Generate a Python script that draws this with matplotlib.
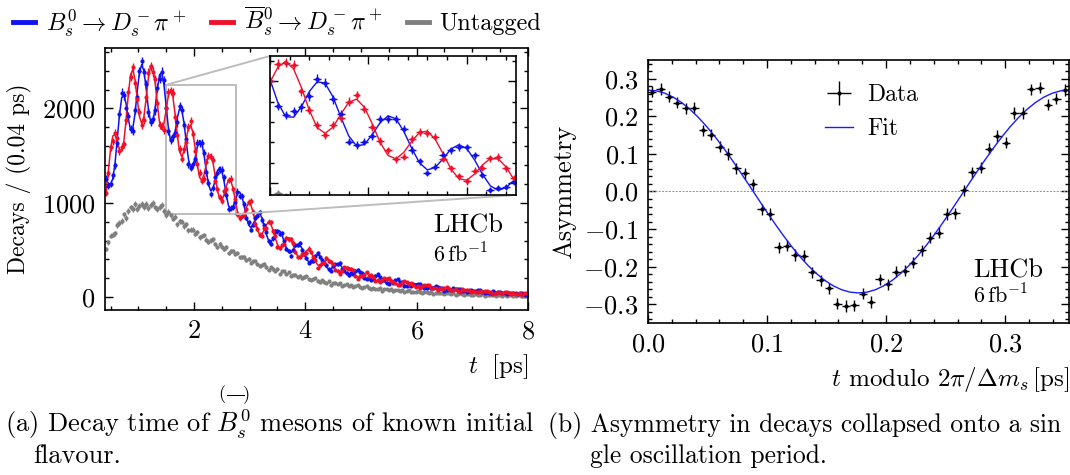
import numpy as np
import matplotlib
matplotlib.use('Agg')
import matplotlib.pyplot as plt
from matplotlib.ticker import MultipleLocator, NullFormatter, FuncFormatter
from matplotlib.lines import Line2D
from mpl_toolkits.axes_grid1.inset_locator import mark_inset

plt.rcParams['font.family'] = 'cmr10'
plt.rcParams['mathtext.fontset'] = 'cm'
plt.rcParams['axes.formatter.use_mathtext'] = True
plt.rcParams['font.size'] = 17

BLUE = '#1010f0'
RED = '#f0102a'
GREY = '#808080'

# decay-time histogram: 190 bins of 0.04 ps between 0.4 and 8 ps
t_bins = 0.42 + 0.04 * np.arange(190)

blue_data = [
    1255, 1178, 1202, 1293, 1398, 1635, 1939, 2165, 2140, 2000,
    1917, 1778, 1762, 1981, 2116, 2393, 2497, 2381, 2254, 1957,
    1858, 1889, 1978, 2221, 2314, 2389, 2298, 2001, 1759, 1665,
    1703, 1744, 1851, 2024, 1986, 1823, 1679, 1407, 1372, 1406,
    1463, 1631, 1629, 1632, 1530, 1322, 1213, 1096, 1158, 1274,
    1320, 1351, 1349, 1270, 1078, 931, 947, 956, 1008, 1119,
    1073, 1075, 991, 842, 795, 713, 767, 842, 864, 899,
    817, 760, 692, 592, 568, 625, 700, 699, 674, 677,
    593, 508, 492, 438, 502, 551, 554, 576, 500, 461,
    418, 366, 386, 382, 434, 470, 431, 390, 366, 345,
    295, 283, 332, 347, 348, 360, 294, 283, 261, 231,
    258, 247, 278, 293, 265, 256, 204, 198, 205, 187,
    198, 227, 242, 213, 179, 179, 155, 142, 167, 151,
    181, 188, 164, 163, 123, 121, 126, 120, 141, 131,
    144, 143, 114, 97, 99, 109, 99, 98, 120, 113,
    98, 100, 67, 78, 83, 79, 98, 83, 89, 87,
    67, 68, 53, 62, 74, 68, 67, 72, 73, 55,
    42, 53, 49, 49, 62, 46, 57, 55, 41, 46,
    32, 40, 47, 41, 50, 36, 40, 42, 28, 25,
]

red_data = [
    1104, 1311, 1594, 1651, 1736, 1685, 1551, 1590, 1618, 1880,
    2177, 2334, 2434, 2265, 2104, 1962, 1821, 1881, 2119, 2379,
    2445, 2385, 2310, 2055, 1829, 1815, 1773, 2001, 2171, 2185,
    2165, 1904, 1716, 1569, 1467, 1569, 1642, 1799, 1865, 1728,
    1553, 1410, 1320, 1230, 1257, 1434, 1499, 1489, 1456, 1236,
    1144, 1065, 1015, 1121, 1148, 1240, 1255, 1142, 1045, 883,
    841, 865, 873, 932, 1004, 1017, 900, 774, 728, 664,
    653, 735, 729, 799, 792, 701, 651, 536, 525, 551,
    562, 626, 612, 612, 577, 479, 422, 425, 458, 460,
    470, 516, 482, 421, 398, 313, 337, 362, 366, 416,
    381, 377, 347, 290, 279, 251, 282, 318, 310, 304,
    301, 285, 229, 196, 221, 225, 233, 266, 227, 236,
    218, 177, 180, 159, 181, 202, 196, 203, 170, 163,
    155, 128, 127, 149, 173, 159, 141, 150, 126, 105,
    116, 95, 120, 133, 125, 132, 103, 97, 94, 79,
    93, 85, 103, 112, 92, 79, 79, 82, 65, 60,
    82, 81, 76, 81, 57, 61, 59, 52, 64, 56,
    64, 68, 55, 57, 39, 44, 51, 43, 44, 53,
    60, 45, 33, 42, 35, 31, 43, 29, 43, 45,
]

blue_fit = [
    1239, 1209, 1196, 1253, 1414, 1665, 1926, 2111, 2147, 2050,
    1888, 1774, 1788, 1944, 2183, 2382, 2464, 2396, 2210, 1994,
    1858, 1863, 2000, 2199, 2355, 2382, 2250, 2020, 1791, 1651,
    1647, 1751, 1900, 1996, 1982, 1848, 1648, 1463, 1363, 1378,
    1475, 1594, 1660, 1632, 1508, 1341, 1196, 1127, 1152, 1238,
    1334, 1376, 1338, 1225, 1084, 970, 925, 954, 1025, 1095,
    1116, 1068, 969, 852, 766, 737, 767, 827, 877, 886,
    840, 756, 665, 603, 587, 617, 666, 703, 703, 660,
    591, 520, 475, 469, 497, 536, 561, 556, 517, 461,
    406, 376, 376, 401, 431, 448, 440, 405, 359, 318,
    298, 301, 322, 346, 357, 347, 317, 279, 249, 236,
    242, 260, 278, 284, 273, 248, 218, 195, 188, 194,
    210, 223, 226, 215, 193, 171, 154, 149, 157, 169,
    178, 179, 168, 151, 133, 121, 119, 126, 135, 142,
    142, 133, 118, 104, 96, 96, 101, 109, 114, 112,
    104, 92, 81, 76, 76, 82, 88, 91, 89, 81,
    72, 64, 60, 61, 66, 71, 72, 70, 63, 56,
    50, 48, 49, 53, 56, 57, 55, 50, 43, 39,
    38, 40, 43, 45, 46, 43, 39, 34, 31, 30,
]

red_fit = [
    1101, 1331, 1564, 1707, 1726, 1655, 1564, 1549, 1653, 1880,
    2152, 2356, 2412, 2306, 2097, 1914, 1840, 1914, 2104, 2320,
    2452, 2437, 2280, 2051, 1855, 1778, 1840, 1990, 2139, 2199,
    2123, 1939, 1716, 1544, 1488, 1548, 1676, 1793, 1825, 1744,
    1581, 1398, 1270, 1236, 1300, 1409, 1496, 1509, 1428, 1286,
    1136, 1040, 1026, 1087, 1176, 1240, 1235, 1156, 1031, 909,
    836, 834, 885, 954, 994, 979, 905, 803, 711, 662,
    668, 714, 767, 793, 773, 709, 626, 557, 525, 536,
    575, 616, 631, 609, 555, 488, 437, 418, 431, 463,
    494, 502, 480, 433, 381, 344, 332, 347, 373, 396,
    398, 377, 338, 298, 271, 265, 279, 301, 317, 316,
    296, 264, 232, 214, 211, 224, 242, 253, 250, 232,
    206, 181, 168, 169, 181, 195, 202, 197, 181, 161,
    142, 133, 136, 145, 157, 161, 155, 142, 125, 112,
    106, 109, 118, 126, 128, 122, 111, 97, 88, 84,
    88, 94, 101, 102, 96, 86, 76, 69, 67, 71,
    76, 80, 80, 75, 68, 59, 54, 54, 57, 62,
    64, 64, 59, 53, 46, 43, 43, 46, 49, 51,
    50, 46, 41, 37, 34, 35, 37, 40, 41, 40,
]

untagged_data = [
    511, 580, 653, 662, 678, 765, 787, 808, 878, 841,
    916, 951, 935, 986, 938, 967, 986, 955, 986, 943,
    975, 1000, 951, 934, 957, 976, 915, 868, 903, 868,
    831, 854, 773, 804, 802, 755, 774, 711, 717, 717,
    675, 686, 636, 649, 659, 609, 588, 601, 613, 564,
    529, 559, 534, 507, 528, 465, 491, 491, 456, 473,
    421, 428, 429, 396, 406, 367, 379, 388, 349, 334,
    345, 357, 319, 293, 318, 300, 281, 299, 249, 273,
    275, 250, 266, 229, 237, 240, 217, 227, 199, 211,
    220, 191, 181, 193, 204, 175, 157, 179, 166, 153,
    169, 131, 153, 156, 137, 151, 123, 131, 135, 117,
    128, 106, 117, 125, 104, 97, 108, 117, 97, 82,
    102, 92, 83, 95, 68, 85, 88, 74, 87, 65,
    72, 76, 63, 72, 56, 65, 72, 56, 52, 60,
    67, 53, 43, 58, 51, 44, 55, 33, 47, 50,
    41, 49, 35, 40, 43, 34, 41, 29, 36, 42,
    30, 28, 34, 39, 29, 22, 32, 28, 23, 32,
    17, 27, 29, 22, 29, 18, 22, 25, 18, 23,
    14, 20, 25, 16, 13, 20, 25, 16, 9, 20,
]

# asymmetry folded onto one oscillation period, 50 bins
period = 2 * np.pi / 17.766
asym_t = (np.arange(50) + 0.5) * period / 50
asym_data = [
    0.266, 0.273, 0.252, 0.236, 0.221, 0.223, 0.163, 0.151, 0.119, 0.100,
    0.062, 0.048, 0.019, -0.047, -0.060, -0.149, -0.144, -0.169, -0.171, -0.215,
    -0.236, -0.258, -0.299, -0.305, -0.303, -0.272, -0.294, -0.234, -0.247, -0.213,
    -0.211, -0.189, -0.157, -0.123, -0.110, -0.060, -0.058, 0.003, 0.051, 0.063,
    0.114, 0.148, 0.130, 0.209, 0.209, 0.272, 0.276, 0.231, 0.247, 0.270,
]
asym_err = 0.015

fit_t = np.arange(51) * period / 50
fit_half = [
    0.2700, 0.2679, 0.2615, 0.2510, 0.2366, 0.2184, 0.1968, 0.1721, 0.1447,
    0.1150, 0.0834, 0.0506, 0.0170, -0.0170, -0.0506, -0.0834, -0.1150,
    -0.1447, -0.1721, -0.1968, -0.2184, -0.2366, -0.2510, -0.2615, -0.2679,
    -0.2700,
]
asym_fit = fit_half + fit_half[-2::-1]


def lhcb_style(ax, labelsize=19):
    ax.tick_params(which='both', direction='in', top=True, right=True,
                   labelsize=labelsize)
    ax.tick_params(which='major', length=6, width=1.0, pad=7)
    ax.tick_params(which='minor', length=3, width=1.0)
    for sp in ax.spines.values():
        sp.set_linewidth(1.2)


def draw_decays(ax, ms=2.0, lw=1.1):
    ax.errorbar(t_bins, untagged_data, yerr=np.sqrt(untagged_data), xerr=0.02,
                fmt='o', ms=ms, color=GREY, elinewidth=1.0, capsize=0)
    ax.errorbar(t_bins, blue_data, yerr=np.sqrt(blue_data), xerr=0.02,
                fmt='o', ms=ms, color=BLUE, elinewidth=1.0, capsize=0)
    ax.plot(t_bins, blue_fit, color=BLUE, lw=lw)
    ax.errorbar(t_bins, red_data, yerr=np.sqrt(red_data), xerr=0.02,
                fmt='o', ms=ms, color=RED, elinewidth=1.0, capsize=0)
    ax.plot(t_bins, red_fit, color=RED, lw=lw)


fig = plt.figure(figsize=(10.7, 4.75), dpi=100)

# (a) decay-time distribution
ax = fig.add_axes([0.0981, 0.3474, 0.3953, 0.5516])
draw_decays(ax)
ax.set_xlim(0.4, 8)
ax.set_ylim(-135, 2640)
ax.xaxis.set_major_locator(MultipleLocator(2))
ax.xaxis.set_minor_locator(MultipleLocator(0.5))
ax.yaxis.set_major_locator(MultipleLocator(1000))
ax.yaxis.set_minor_locator(MultipleLocator(200))
lhcb_style(ax)
ax.set_ylabel('Decays / (0.04 ps)', fontsize=17, labelpad=7)
ax.set_xlabel(r'$t\;$ [ps]', loc='right', fontsize=18, labelpad=6)
ax.text(6.3, 760, 'LHCb', fontsize=19, va='center')
ax.text(6.3, 455, r'$6\,\mathrm{fb}^{-1}$', fontsize=16, va='center')

axins = fig.add_axes([0.2523, 0.5895, 0.2299, 0.2926])
draw_decays(axins, ms=2.2, lw=1.0)
axins.set_xlim(1.5, 2.75)
axins.set_ylim(880, 2250)
axins.xaxis.set_major_locator(MultipleLocator(0.5))
axins.xaxis.set_minor_locator(MultipleLocator(0.1))
axins.yaxis.set_major_locator(MultipleLocator(1000))
axins.yaxis.set_minor_locator(MultipleLocator(200))
axins.xaxis.set_major_formatter(NullFormatter())
axins.yaxis.set_major_formatter(NullFormatter())
lhcb_style(axins)
mark_inset(ax, axins, loc1=2, loc2=4, fc='none', ec='#bdbdbd', lw=1.4)

# (b) folded asymmetry
ax2 = fig.add_axes([0.6056, 0.3200, 0.3935, 0.5537])
ax2.axhline(0, color='#909090', ls=(0, (2, 1.5)), lw=0.7)
data_h = ax2.errorbar(asym_t, asym_data, yerr=asym_err, xerr=period / 100,
                      fmt='o', ms=2.0, color='black', elinewidth=1.0, capsize=0)
fit_h, = ax2.plot(fit_t, asym_fit, color='#1a1aff', lw=1.0)
ax2.set_xlim(0, period)
ax2.set_ylim(-0.35, 0.35)
ax2.xaxis.set_major_locator(MultipleLocator(0.1))
ax2.xaxis.set_minor_locator(MultipleLocator(0.02))
ax2.yaxis.set_major_locator(MultipleLocator(0.1))
ax2.yaxis.set_minor_locator(MultipleLocator(0.02))
ax2.yaxis.set_major_formatter(FuncFormatter(lambda v, p: f'${v:.1f}$'))
ax2.xaxis.set_major_formatter(FuncFormatter(lambda v, p: f'${v:.1f}$'))
lhcb_style(ax2)
ax2.set_ylabel('Asymmetry', fontsize=19, labelpad=5)
ax2.set_xlabel(r'$t$ modulo $2\pi/\mathit{\Delta} m_s\,$[ps]', loc='right',
               fontsize=18, labelpad=6)
ax2.legend([data_h, fit_h], ['Data', 'Fit'], loc='upper left',
           bbox_to_anchor=(0.37, 0.99), frameon=False, handlelength=1.2,
           handletextpad=0.6, fontsize=17)
ax2.text(0.273, -0.210, 'LHCb', fontsize=19, va='center')
ax2.text(0.273, -0.278, r'$6\,\mathrm{fb}^{-1}$', fontsize=16, va='center')

# shared legend along the top
handles = [Line2D([], [], color=c, lw=3.5) for c in (BLUE, RED, GREY)]
labels = [r'$B_s^0 \to D_s^- \pi^+$', r'$\overline{B}{}_s^0 \to D_s^- \pi^+$', 'Untagged']
fig.legend(handles, labels, loc='upper left', bbox_to_anchor=(-0.008, 1.035), ncol=3,
           frameon=False, handlelength=0.9, handletextpad=0.45, columnspacing=1.0,
           fontsize=17.5)

# sub-figure captions
fig.text(0.005, 0.0905, r'(a) Decay time of $\overset{(\overline{\ \ \ })}{B_s^0}$ mesons of known initial',
         fontsize=19, va='baseline')
fig.text(0.031, 0.025, 'flavour.', fontsize=19, va='baseline')
fig.text(0.512, 0.0905, '(b) Asymmetry in decays collapsed onto a sin', fontsize=18.4, va='baseline')
fig.text(0.551, 0.025, 'gle oscillation period.', fontsize=18.4, va='baseline')

fig.savefig('out.png', dpi=100)
